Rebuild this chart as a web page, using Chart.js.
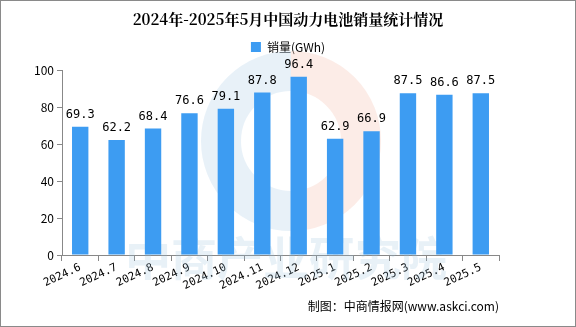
<!DOCTYPE html>
<html><head><meta charset="utf-8">
<script src="https://cdn.jsdelivr.net/npm/chart.js@4/dist/chart.umd.min.js"></script>
<style>html,body{margin:0;padding:0;background:#fff}#wrap{width:576px;height:327px;box-sizing:border-box;border:1px solid #8a8a8a;position:relative}</style>
</head><body><div id="wrap"><canvas id="c" width="574" height="325"></canvas></div>
<script>
const categories = ["2024.6","2024.7","2024.8","2024.9","2024.10","2024.11","2024.12","2025.1","2025.2","2025.3","2025.4","2025.5"];
const sales = [69.3,62.2,68.4,76.6,79.1,87.8,96.4,62.9,66.9,87.5,86.6,87.5];
const yTicks = [0,20,40,60,80,100];
const footerText = '制图：中商情报网(www.askci.com)';
const font = "'Noto Sans CJK SC','DejaVu Sans',sans-serif";

const legendGap = {
  id:'lg',
  beforeInit(chart){
    const lg = chart.legend; const orig = lg.fit;
    lg.fit = function(){ orig.call(this); this.height += 7; };
  }
};
const watermark = {
  id:'wm',
  beforeDatasetsDraw(chart){
    const c = chart.ctx; const a = chart.chartArea;
    c.save();
    c.fillStyle='rgba(150,190,220,0.22)';
    c.font="bold 46px 'Noto Sans CJK SC'";
    c.textAlign='center';c.textBaseline='middle';
    c.fillText('中商产业研究院',285,a.bottom+3);
    c.beginPath();c.arc(290,140,70,Math.PI*0.5,Math.PI*1.5);c.lineWidth=40;c.strokeStyle='rgba(190,215,235,0.35)';c.stroke();
    c.beginPath();c.arc(290,140,70,Math.PI*1.5,Math.PI*0.5);c.strokeStyle='rgba(245,200,185,0.35)';c.stroke();
    c.restore();
  }
};
const valueLabels = {
  id:'vl',
  afterDatasetsDraw(chart){
    const c = chart.ctx; const meta = chart.getDatasetMeta(0);
    c.save();c.fillStyle='#000';c.font="12px 'DejaVu Sans Mono','Liberation Mono',monospace";
    c.textAlign='center';c.textBaseline='bottom';
    meta.data.forEach((b,i)=>{c.fillText(sales[i].toFixed(1),b.x,b.y-6);});
    c.font="12px "+font;c.textAlign='right';c.textBaseline='middle';
    c.fillText(footerText,chart.chartArea.right,chart.height-20);
    c.restore();
  }
};
new Chart(document.getElementById('c'),{
  type:'bar',
  data:{labels:categories,datasets:[{label:'销量(GWh)',data:sales,backgroundColor:'#3d9cf2',barPercentage:0.45,categoryPercentage:1}]},
  options:{
    responsive:false,animation:false,devicePixelRatio:1,
    layout:{padding:{left:0,right:0,top:0,bottom:22}},
    plugins:{
      title:{display:true,text:'2024年-2025年5月中国动力电池销量统计情况',color:'#000',font:{family:"'Noto Serif CJK SC','Noto Sans CJK SC',serif",size:15,weight:'bold'},padding:{top:9,bottom:9}},
      legend:{display:true,labels:{boxWidth:10,boxHeight:10,color:'#000',font:{family:font,size:12},padding:4}},
      tooltip:{enabled:false}
    },
    scales:{
      x:{grid:{display:true,drawOnChartArea:false,drawTicks:true,tickLength:6,color:'#888',offset:true},border:{color:'#888'},
         afterFit(ax){ax.height=49;},
         ticks:{autoSkip:false,color:'#000',maxRotation:25,minRotation:25,font:{family:"'DejaVu Sans Mono',monospace",size:11},padding:0}},
      y:{min:0,max:100,afterBuildTicks(ax){ax.ticks=yTicks.map(v=>({value:v}));},
         afterFit(ax){ax.width=61;},
         grid:{display:true,drawOnChartArea:false,tickLength:5,color:'#888'},border:{color:'#888'},
         ticks:{color:'#000',font:{family:font,size:12},padding:3}},
      yr:{position:'right',display:true,grid:{display:false},border:{display:false},ticks:{display:false},
         afterFit(ax){ax.width=76;}}
    }
  },
  plugins:[legendGap,watermark,valueLabels]
});
</script></body></html>
